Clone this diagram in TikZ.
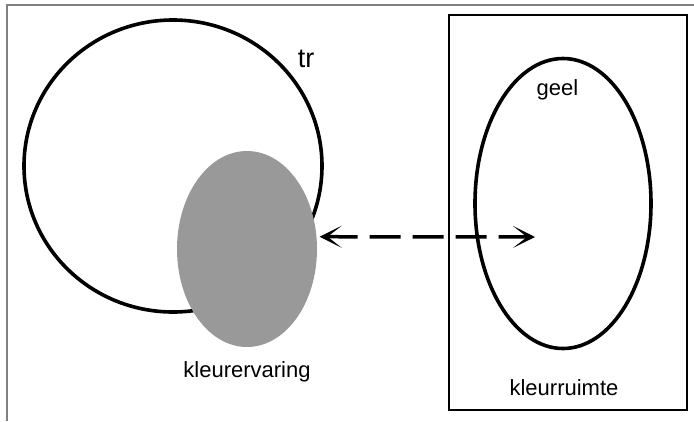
\documentclass[tikz,border=0pt]{standalone}
\usepackage{fontspec}
\setmainfont{Liberation Sans}
\usetikzlibrary{arrows.meta, positioning, shapes.geometric}

\begin{document}
\begin{tikzpicture}[
                x=1pt, y=-1pt,
                ring/.style={ellipse, draw, line width=3.6pt, inner sep=0pt},
                patch/.style={ellipse, fill=black!40, inner sep=0pt},
                spacebox/.style={rectangle, draw, line width=1.6pt, inner sep=0pt},
                lbl/.style={font=\fontsize{22}{26}\selectfont, inner sep=0pt},
                line/.style={draw, line width=3.5pt, dash pattern=on 31pt off 12pt,
                    {Stealth[length=22pt, width=22pt, inset=14pt]}-{Stealth[length=22pt, width=22pt, inset=14pt]}}
            ]
                \useasboundingbox (0,0) rectangle (694,421);
                % page edge, top and left only
                \draw [black!50, line width=1.5pt] (694,5) -- (7,5) -- (7,421);

                % Place nodes
                \node [ring, minimum width=298pt, minimum height=292pt] (P_tr) at (173,166) {};
                \node [patch, minimum width=140pt, minimum height=196pt] (P_patch) at (247,249) {};
                \node [spacebox, minimum width=238pt, minimum height=395pt] (P_space) at (568,212.5) {};
                \node [ring, minimum width=176pt, minimum height=290pt] (P_yellow) at (563,203.5) {};

                % labels
                \node [lbl, font=\fontsize{27}{30}\selectfont, anchor=base] (L_tr) at (306,67) {tr};
                \node [lbl, below=14pt of P_patch] (L_ervaring) {kleurervaring};
                \node [lbl, anchor=base] (L_geel) at (557.5,95) {geel};
                \node [lbl, above=15pt of P_space.south, xshift=-4pt] (L_ruimte) {kleurruimte};

                % Draw edges
                \coordinate (P_target) at (535,237);
                \path [line] ([xshift=3pt]P_patch.10) -- (P_target);

            \end{tikzpicture}
\end{document}
